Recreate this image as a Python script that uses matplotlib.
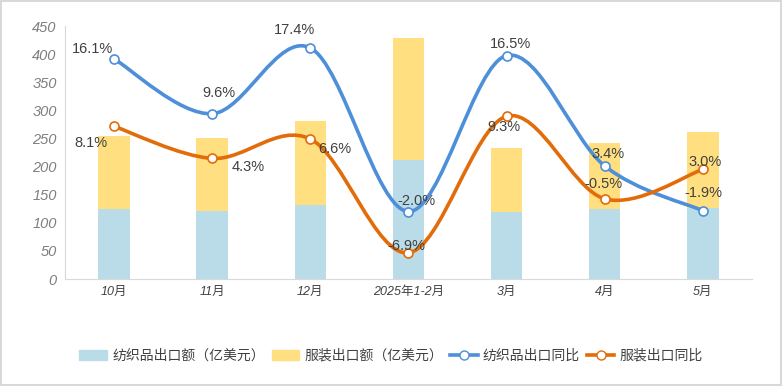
import numpy as np
import matplotlib.pyplot as plt
from matplotlib.path import Path
from matplotlib.patches import PathPatch, Patch
from matplotlib.lines import Line2D

plt.rcParams['font.family'] = ['Liberation Sans', 'Noto Sans CJK SC']

months = ["10月", "11月", "12月", "2025年1-2月", "3月", "4月", "5月"]
textile_amt = [124, 121.5, 132, 212, 120, 124.5, 127]
apparel_amt = [130.5, 130, 149, 217, 113.5, 118, 134.5]
textile_yoy = [16.1, 9.6, 17.4, -2.0, 16.5, 3.4, -1.9]
apparel_yoy = [8.1, 4.3, 6.6, -6.9, 9.3, -0.5, 3.0]

# label offsets in pixels (dx, dy) relative to each point
textile_off = [(-22, 10), (7, 21), (-16, 18), (8, 11), (4, 12), (3, 12), (0, 18)]
apparel_off = [(-23, -17), (36, -9), (24, -10), (-2, 7), (-3, -11), (-1, 15), (2, 7)]

C_TEX_BAR = "#B9DCE8"
C_APP_BAR = "#FFDF80"
C_TEX_LINE = "#4D8FD8"
C_APP_LINE = "#E36C0A"
C_TEXT = "#404040"


def smooth_path(xs, ys, t=1 / 6):
    pts = np.column_stack([xs, ys]).astype(float)
    n = len(pts)
    verts = [pts[0]]
    codes = [Path.MOVETO]
    for i in range(n - 1):
        p0 = pts[i - 1] if i > 0 else pts[i]
        p1 = pts[i]
        p2 = pts[i + 1]
        p3 = pts[i + 2] if i + 2 < n else pts[i + 1]
        c1 = p1 + (p2 - p0) * t
        c2 = p2 - (p3 - p1) * t
        verts += [c1, c2, p2]
        codes += [Path.CURVE4] * 3
    return Path(verts, codes)


fig = plt.figure(figsize=(7.82, 3.86), dpi=100)
fig.patch.set_edgecolor("#D9D9D9")
fig.patch.set_linewidth(1.5)
ax = fig.add_axes([0.0831, 0.2772, 0.8785, 0.6554])

x = np.arange(len(months))
w = 0.32
ax.bar(x, textile_amt, w, color=C_TEX_BAR, zorder=2)
ax.bar(x, apparel_amt, w, bottom=textile_amt, color=C_APP_BAR, zorder=2)

ax.set_xlim(-0.5, len(months) - 0.5)
ax.set_ylim(0, 450)
ax.set_yticks(range(0, 451, 50))
ax.set_xticks(x)
ax.set_xticklabels(months, fontsize=9, style="italic", color=C_TEXT)
ax.tick_params(axis="y", labelsize=10.5, labelcolor="#7F7F7F", length=0, pad=6)
ax.tick_params(axis="x", length=0, pad=5)
for lab in ax.get_yticklabels():
    lab.set_fontstyle("italic")
for s in ["top", "right"]:
    ax.spines[s].set_visible(False)
for s in ["left", "bottom"]:
    ax.spines[s].set_color("#D9D9D9")

ax2 = ax.twinx()
ax2.set_ylim(-10, 20)
ax2.axis("off")

for vals, col, offs in [(textile_yoy, C_TEX_LINE, textile_off),
                        (apparel_yoy, C_APP_LINE, apparel_off)]:
    ax2.add_patch(PathPatch(smooth_path(x, vals), fill=False, edgecolor=col,
                            linewidth=2.6, capstyle="round", zorder=3))
    ax2.plot(x, vals, linestyle="none", marker="o", markersize=6.5,
             markerfacecolor="white", markeredgecolor=col, markeredgewidth=1.2,
             zorder=4)
    for xi, v, (dx, dy) in zip(x, vals, offs):
        ax2.annotate(f"{v:.1f}%", (xi, v), xytext=(dx, dy), textcoords="offset pixels",
                     ha="center", va="center", fontsize=10.5, color=C_TEXT, zorder=5)

handles = [
    Patch(color=C_TEX_BAR, label="纺织品出口额（亿美元）"),
    Patch(color=C_APP_BAR, label="服装出口额（亿美元）"),
    Line2D([], [], color=C_TEX_LINE, linewidth=2.6, marker="o", markersize=6.5,
           markerfacecolor="white", markeredgecolor=C_TEX_LINE, label="纺织品出口同比"),
    Line2D([], [], color=C_APP_LINE, linewidth=2.6, marker="o", markersize=6.5,
           markerfacecolor="white", markeredgecolor=C_APP_LINE, label="服装出口同比"),
]
leg = fig.legend(handles=handles, loc="center", bbox_to_anchor=(0.5, 0.078), ncol=4,
                 frameon=False, fontsize=10, handlelength=2.0, handletextpad=0.35,
                 columnspacing=0.5)
for t in leg.get_texts():
    t.set_color(C_TEXT)

fig.savefig("out.png", dpi=100, edgecolor=fig.get_edgecolor())
